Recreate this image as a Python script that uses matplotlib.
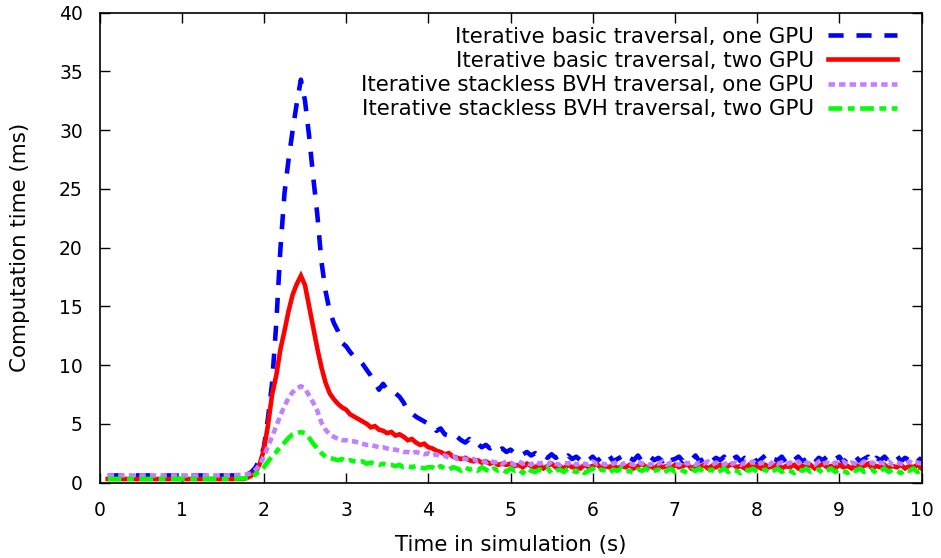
import numpy as np
import matplotlib
matplotlib.use("Agg")
import matplotlib.pyplot as plt

plt.rcParams['font.family'] = ['DejaVu Sans']

# ---------------- data ----------------
t_pre = [0.10, 0.50, 1.00, 1.50, 1.75]
t_step = 0.05
t_start = 1.80

blue_pre = [0.6, 0.6, 0.6, 0.6, 0.6]
red_pre = [0.3, 0.3, 0.3, 0.3, 0.3]
purple_pre = [0.6, 0.6, 0.6, 0.6, 0.65]
green_pre = [0.3, 0.3, 0.3, 0.3, 0.35]

# values sampled every 0.05 s from 1.80 s to 10.00 s
blue = [
    0.7, 0.9, 1.3, 2.0, 3.0, 5.5, 8.5, 13.5, 19.8, 24.6,       # 1.80-2.25
    27.5, 30.0, 32.3, 34.3, 32.5, 29.5, 26.0, 22.8, 18.8, 16.3,  # 2.30-2.75
    14.6, 13.6, 12.9, 11.9, 11.6, 11.1, 10.7, 10.5, 10.1, 9.6,  # 2.80-3.25
    9.1, 8.5, 7.9, 8.4, 7.9, 7.6, 7.6, 7.3, 6.8, 6.1,          # 3.30-3.75
    5.9, 5.6, 5.4, 5.2, 5.0, 4.9, 4.4, 4.6, 4.1, 4.0,          # 3.80-4.25
    3.7, 3.9, 3.6, 3.4, 3.7, 3.2, 3.3, 3.0, 3.2, 2.9,          # 4.30-4.75
    3.1, 2.7, 2.9, 2.6, 2.8, 2.5, 2.7, 2.4, 2.6, 2.3,          # 4.80-5.25
    2.5, 2.2, 2.4, 2.1, 2.4, 2.1, 2.3, 2.0, 2.3, 2.0,          # 5.30-5.75
    2.2, 1.9, 2.2, 1.9, 2.2, 1.8, 2.1, 1.9, 2.3, 1.8,          # 5.80-6.25
    2.0, 2.2, 1.8, 2.1, 1.9, 2.3, 1.8, 2.0, 2.2, 1.9,          # 6.30-6.75
    2.1, 1.8, 2.3, 1.9, 2.0, 2.2, 1.8, 2.1, 1.9, 2.3,          # 6.80-7.25
    1.8, 2.0, 2.2, 1.8, 2.1, 1.9, 2.2, 1.7, 2.0, 2.2,          # 7.30-7.75
    1.8, 2.1, 1.9, 2.2, 1.7, 2.0, 2.3, 1.8, 2.0, 1.9,          # 7.80-8.25
    2.2, 1.7, 2.1, 1.9, 2.2, 1.8, 2.0, 2.2, 1.7, 2.1,          # 8.30-8.75
    1.9, 2.2, 1.8, 2.0, 2.2, 1.7, 2.1, 1.9, 2.2, 1.8,          # 8.80-9.25
    2.0, 2.2, 1.7, 2.1, 1.9, 2.2, 1.8, 2.0, 2.3, 1.8,          # 9.30-9.75
    2.1, 1.9, 2.2, 1.8, 2.1,                                   # 9.80-10.00
]

red = [
    0.4, 0.6, 0.9, 1.6, 2.8, 4.9, 7.5, 9.1, 11.3, 12.9,
    14.6, 16.0, 16.9, 17.6, 16.8, 15.0, 13.2, 11.4, 9.8, 8.5,
    7.6, 7.1, 6.7, 6.4, 6.2, 5.8, 5.6, 5.4, 5.2, 5.0,
    4.7, 4.8, 4.5, 4.4, 4.2, 4.3, 4.0, 4.1, 3.9, 3.6,
    3.7, 3.4, 3.2, 3.3, 3.0, 2.9, 2.7, 2.6, 2.4, 2.5,
    2.2, 2.1, 2.0, 2.1, 1.9, 1.8, 1.9, 1.7, 1.8, 1.6,
    1.7, 1.5, 1.6, 1.5, 1.6, 1.4, 1.5, 1.3, 1.6, 1.4,
    1.3, 1.5, 1.2, 1.4, 1.6, 1.3, 1.4, 1.2, 1.5, 1.3,
    1.4, 1.2, 1.5, 1.3, 1.4, 1.6, 1.2, 1.4, 1.3, 1.5,
    1.2, 1.4, 1.3, 1.5, 1.2, 1.4, 1.6, 1.3, 1.4, 1.2,
    1.5, 1.3, 1.4, 1.2, 1.5, 1.3, 1.4, 1.6, 1.2, 1.4,
    1.3, 1.5, 1.2, 1.4, 1.3, 1.5, 1.2, 1.4, 1.6, 1.3,
    1.4, 1.2, 1.5, 1.3, 1.4, 1.2, 1.5, 1.3, 1.4, 1.6,
    1.2, 1.4, 1.3, 1.5, 1.2, 1.4, 1.3, 1.5, 1.2, 1.4,
    1.6, 1.3, 1.4, 1.2, 1.5, 1.3, 1.4, 1.2, 1.5, 1.3,
    1.4, 1.6, 1.2, 1.4, 1.3, 1.5, 1.2, 1.4, 1.3, 1.5,
    1.2, 1.4, 1.3, 1.5, 1.2,
]

purple = [
    0.7, 0.8, 1.1, 1.5, 2.2, 3.1, 3.9, 4.8, 5.7, 6.5,
    7.2, 7.7, 8.0, 8.2, 8.0, 7.4, 6.8, 6.1, 5.1, 4.5,
    4.1, 3.9, 3.7, 3.6, 3.6, 3.5, 3.5, 3.4, 3.3, 3.2,
    3.2, 3.1, 3.0, 3.0, 2.9, 2.8, 2.8, 2.7, 2.6, 2.6,
    2.5, 2.6, 2.5, 2.4, 2.5, 2.3, 2.4, 2.2, 2.3, 2.1,
    2.2, 2.0, 2.1, 2.0, 1.9, 2.0, 1.8, 1.9, 1.7, 1.9,
    1.7, 1.8, 1.6, 1.8, 1.7, 1.5, 1.8, 1.6, 1.7, 1.5,
    1.8, 1.6, 1.7, 1.5, 1.8, 1.6, 1.5, 1.7, 1.6, 1.8,
    1.5, 1.7, 1.6, 1.5, 1.8, 1.6, 1.7, 1.5, 1.7, 1.6,
    1.8, 1.5, 1.7, 1.6, 1.5, 1.8, 1.6, 1.7, 1.5, 1.7,
    1.6, 1.8, 1.5, 1.7, 1.6, 1.5, 1.8, 1.6, 1.7, 1.5,
    1.7, 1.6, 1.8, 1.5, 1.7, 1.6, 1.5, 1.8, 1.6, 1.7,
    1.5, 1.7, 1.6, 1.8, 1.5, 1.7, 1.6, 1.5, 1.8, 1.6,
    1.7, 1.5, 1.7, 1.6, 1.8, 1.5, 1.7, 1.6, 1.5, 1.8,
    1.6, 1.7, 1.5, 1.7, 1.6, 1.8, 1.5, 1.7, 1.6, 1.5,
    1.8, 1.6, 1.7, 1.5, 1.7, 1.6, 1.8, 1.5, 1.7, 1.6,
    1.5, 1.8, 1.6, 1.7, 1.6,
]

green = [
    0.4, 0.5, 0.7, 1.0, 1.3, 1.8, 2.2, 2.6, 3.0, 3.4,
    3.8, 4.1, 4.2, 4.3, 4.2, 3.8, 3.3, 2.9, 2.5, 2.2,
    2.1, 2.0, 1.9, 2.0, 1.8, 1.9, 1.8, 1.7, 1.8, 1.6,
    1.7, 1.6, 1.5, 1.6, 1.5, 1.5, 1.4, 1.5, 1.3, 1.4,
    1.3, 1.4, 1.3, 1.2, 1.3, 1.3, 1.1, 1.4, 1.2, 1.1,
    1.3, 1.2, 1.0, 1.3, 1.1, 1.2, 1.0, 1.3, 1.1, 0.9,
    1.2, 1.0, 1.1, 0.9, 1.2, 1.0, 1.1, 0.8, 1.2, 1.0,
    0.9, 1.1, 1.0, 1.2, 0.8, 1.0, 1.1, 0.9, 1.2, 1.0,
    0.9, 1.1, 0.8, 1.0, 1.2, 0.9, 1.1, 1.0, 0.8, 1.1,
    1.0, 1.2, 0.9, 1.0, 0.8, 1.1, 1.0, 1.2, 0.9, 1.0,
    1.1, 0.8, 1.0, 1.2, 0.9, 1.1, 1.0, 0.8, 1.1, 1.0,
    1.2, 0.9, 1.0, 1.1, 0.8, 1.0, 1.2, 0.9, 1.1, 1.0,
    0.8, 1.1, 1.0, 1.2, 0.9, 1.0, 1.1, 0.8, 1.0, 1.2,
    0.9, 1.1, 1.0, 0.8, 1.1, 1.0, 1.2, 0.9, 1.0, 1.1,
    0.8, 1.0, 1.2, 0.9, 1.1, 1.0, 0.8, 1.1, 1.0, 1.2,
    0.9, 1.0, 1.1, 0.8, 1.0, 1.2, 0.9, 1.1, 1.0, 0.8,
    1.1, 1.0, 1.2, 0.9, 1.0,
]

labels = [
    "Iterative basic traversal, one GPU",
    "Iterative basic traversal, two GPU",
    "Iterative stackless BVH traversal, one GPU",
    "Iterative stackless BVH traversal, two GPU",
]
x_ticks = [0, 1, 2, 3, 4, 5, 6, 7, 8, 9, 10]
y_ticks = [0, 5, 10, 15, 20, 25, 30, 35, 40]


def series_t(vals):
    t = t_start + t_step * np.arange(len(vals))
    return np.concatenate([t_pre, t])


# ---------------- figure ----------------
W, H, DPI = 941, 558, 100
fig = plt.figure(figsize=(W / DPI, H / DPI), dpi=DPI)
ax = fig.add_axes([99.5 / W, 1 - 482.5 / H, (921.5 - 99.5) / W, (482.5 - 12.7) / H])

FS_TICK = 13.5
FS = 15.4
lw = 3.3
styles = [
    dict(color="#0000ff", dashes=(3.3, 2.8)),
    dict(color="#ff0000", linestyle="-"),
    dict(color="#c080ff", dashes=(1.4, 0.9)),
    dict(color="#00ff00", dashes=(3.0, 1.2, 1.5, 1.2)),
]
data = [
    (blue_pre, blue),
    (red_pre, red),
    (purple_pre, purple),
    (green_pre, green),
]
for (pre, vals), st, lab in zip(data, styles, labels):
    ax.plot(series_t(vals), list(pre) + list(vals), lw=lw, label=lab,
            solid_joinstyle="miter", dash_capstyle="butt", **st)

ax.set_xlim(0, 10)
ax.set_ylim(0, 40)
ax.set_xticks(x_ticks)
ax.set_yticks(y_ticks)
ax.tick_params(direction="in", length=7, width=1, top=True, right=True,
               labelsize=FS_TICK, colors="black")
ax.tick_params(axis="y", pad=12)
ax.tick_params(axis="x", pad=13)
for sp in ax.spines.values():
    sp.set_linewidth(1.2)

ax.set_xlabel("Time in simulation (s)", fontsize=FS, labelpad=11)
ax.set_ylabel("Computation time (ms)", fontsize=FS, labelpad=21)

leg = ax.legend(loc="upper right", frameon=False, markerfirst=False,
                fontsize=FS, handlelength=3.2, handletextpad=0.65,
                labelspacing=0.2, borderaxespad=0.0, borderpad=0.0,
                bbox_to_anchor=(0.9698, 0.9705))
for txt in leg.get_texts():
    txt.set_ha("right")
leg._legend_box.align = "right"

fig.savefig("out.png", dpi=DPI)
